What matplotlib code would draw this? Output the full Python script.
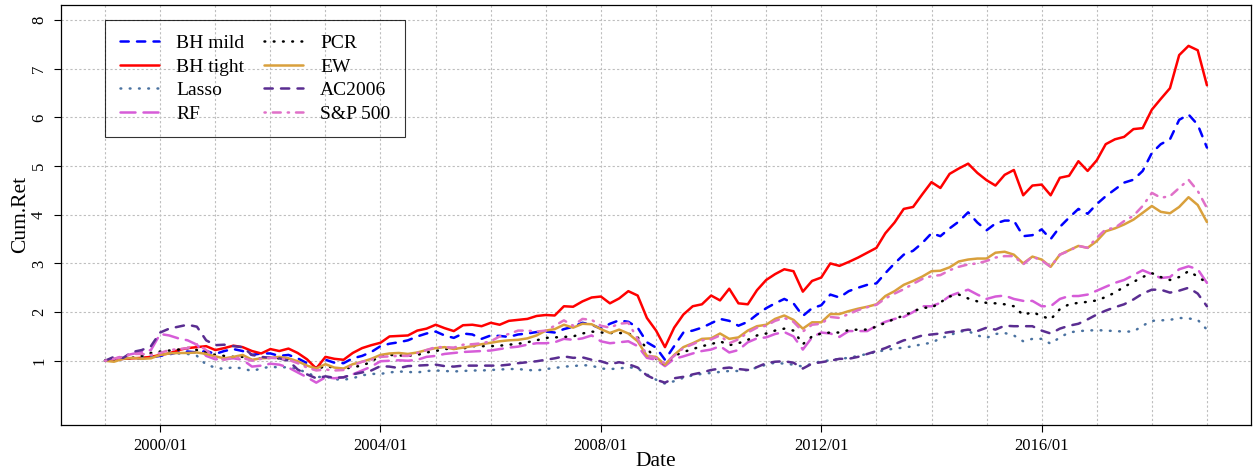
"""
Cumulative return of the BH portfolios against benchmark strategies, 1999/01 - 2019/01.
Values read off the original figure on a two-month grid.
"""

import matplotlib
matplotlib.use("Agg")
import matplotlib.pyplot as plt
import matplotlib.dates as mdates
import pandas as pd

DATES = pd.date_range("1999-01-01", "2019-01-01", freq="2MS")

BH_MILD = [
    1.00, 1.02, 1.04, 1.05, 1.05, 1.07,
    1.10, 1.13, 1.18, 1.19, 1.17, 1.20,
    1.14, 1.20, 1.24, 1.20, 1.12, 1.15,
    1.15, 1.10, 1.12, 1.05, 0.95, 0.85,
    1.02, 0.96, 0.95, 1.05, 1.10, 1.18,
    1.30, 1.35, 1.38, 1.42, 1.50, 1.56,
    1.60, 1.52, 1.47, 1.56, 1.54, 1.45,
    1.52, 1.51, 1.49, 1.54, 1.56, 1.59,
    1.60, 1.58, 1.65, 1.70, 1.78, 1.74,
    1.66, 1.76, 1.83, 1.80, 1.68, 1.38,
    1.27, 1.02, 1.30, 1.58, 1.62, 1.68,
    1.77, 1.86, 1.82, 1.72, 1.80, 1.95,
    2.08, 2.18, 2.27, 2.18, 1.92, 2.08,
    2.14, 2.36, 2.30, 2.43, 2.50, 2.56,
    2.59, 2.80, 3.00, 3.18, 3.26, 3.42,
    3.62, 3.56, 3.72, 3.86, 4.05, 3.84,
    3.68, 3.82, 3.88, 3.88, 3.56, 3.58,
    3.70, 3.50, 3.75, 3.94, 4.12, 4.02,
    4.22, 4.38, 4.52, 4.66, 4.72, 4.90,
    5.27, 5.45, 5.55, 5.95, 6.06, 5.85,
    5.38,
]

BH_TIGHT = [
    1.00, 1.02, 1.04, 1.05, 1.06, 1.08,
    1.12, 1.15, 1.22, 1.26, 1.28, 1.30,
    1.22, 1.26, 1.31, 1.28, 1.20, 1.15,
    1.24, 1.20, 1.25, 1.16, 1.03, 0.84,
    1.08, 1.04, 1.02, 1.16, 1.26, 1.32,
    1.37, 1.50, 1.51, 1.52, 1.62, 1.66,
    1.74, 1.67, 1.61, 1.73, 1.74, 1.71,
    1.78, 1.74, 1.82, 1.84, 1.86, 1.92,
    1.94, 1.93, 2.12, 2.11, 2.22, 2.30,
    2.32, 2.18, 2.28, 2.43, 2.34, 1.88,
    1.62, 1.28, 1.68, 1.95, 2.12, 2.16,
    2.34, 2.24, 2.48, 2.18, 2.16, 2.45,
    2.66, 2.78, 2.88, 2.84, 2.42, 2.64,
    2.71, 3.00, 2.95, 3.03, 3.12, 3.22,
    3.32, 3.62, 3.84, 4.12, 4.16, 4.42,
    4.67, 4.55, 4.84, 4.95, 5.05, 4.86,
    4.71, 4.60, 4.82, 4.92, 4.40, 4.60,
    4.62, 4.40, 4.76, 4.80, 5.10, 4.90,
    5.12, 5.45, 5.55, 5.60, 5.76, 5.78,
    6.16, 6.38, 6.60, 7.28, 7.47, 7.38,
    6.66,
]

LASSO = [
    1.00, 1.03, 1.05, 1.06, 1.08, 1.10,
    1.13, 1.15, 1.15, 1.14, 1.10, 0.92,
    0.86, 0.83, 0.87, 0.84, 0.79, 0.84,
    0.88, 0.86, 0.87, 0.82, 0.76, 0.66,
    0.68, 0.62, 0.61, 0.64, 0.70, 0.73,
    0.73, 0.76, 0.78, 0.77, 0.76, 0.79,
    0.80, 0.79, 0.78, 0.79, 0.80, 0.80,
    0.81, 0.82, 0.83, 0.83, 0.81, 0.80,
    0.83, 0.85, 0.88, 0.89, 0.91, 0.90,
    0.84, 0.83, 0.84, 0.87, 0.84, 0.72,
    0.61, 0.53, 0.58, 0.65, 0.70, 0.73,
    0.75, 0.77, 0.79, 0.79, 0.81, 0.86,
    0.92, 0.96, 0.94, 0.92, 0.88, 0.94,
    0.99, 1.01, 1.04, 1.06, 1.10, 1.14,
    1.18, 1.22, 1.25, 1.27, 1.30, 1.34,
    1.37, 1.46, 1.52, 1.60, 1.61, 1.52,
    1.47, 1.55, 1.57, 1.52, 1.40, 1.45,
    1.45, 1.35, 1.48, 1.58, 1.61, 1.62,
    1.63, 1.62, 1.61, 1.60, 1.60, 1.72,
    1.82, 1.83, 1.84, 1.88, 1.87, 1.84,
    1.64,
]

RF = [
    1.00, 1.04, 1.10, 1.14, 1.18, 1.22,
    1.55, 1.52, 1.46, 1.42, 1.33, 1.10,
    1.03, 1.04, 1.05, 1.02, 0.88, 0.90,
    0.94, 0.92, 0.86, 0.76, 0.66, 0.55,
    0.66, 0.64, 0.66, 0.72, 0.80, 0.88,
    0.99, 1.00, 1.01, 1.00, 1.02, 1.08,
    1.10, 1.14, 1.16, 1.18, 1.19, 1.20,
    1.21, 1.24, 1.27, 1.29, 1.33, 1.36,
    1.36, 1.38, 1.45, 1.43, 1.46, 1.52,
    1.40, 1.36, 1.38, 1.40, 1.30, 1.06,
    1.02, 0.89, 1.04, 1.09, 1.15, 1.20,
    1.23, 1.30, 1.17, 1.22, 1.38, 1.46,
    1.48, 1.55, 1.59, 1.50, 1.23, 1.48,
    1.58, 1.56, 1.49, 1.61, 1.61, 1.61,
    1.72, 1.80, 1.86, 1.90, 2.00, 2.12,
    2.12, 2.19, 2.33, 2.40, 2.46, 2.36,
    2.27, 2.32, 2.34, 2.27, 2.23, 2.23,
    2.12, 2.12, 2.27, 2.33, 2.33, 2.36,
    2.44, 2.52, 2.60, 2.66, 2.76, 2.86,
    2.78, 2.70, 2.72, 2.88, 2.94, 2.88,
    2.60,
]

PCR = [
    1.00, 1.02, 1.04, 1.06, 1.10, 1.16,
    1.19, 1.21, 1.23, 1.26, 1.22, 1.17,
    1.12, 1.10, 1.08, 1.08, 1.01, 1.05,
    1.06, 1.05, 1.04, 0.98, 0.90, 0.81,
    0.90, 0.85, 0.83, 0.87, 0.90, 0.98,
    1.11, 1.12, 1.11, 1.10, 1.12, 1.17,
    1.20, 1.24, 1.25, 1.25, 1.30, 1.30,
    1.30, 1.31, 1.33, 1.35, 1.38, 1.42,
    1.47, 1.48, 1.49, 1.50, 1.56, 1.60,
    1.58, 1.57, 1.57, 1.56, 1.48, 1.25,
    1.04, 0.92, 1.10, 1.18, 1.24, 1.30,
    1.34, 1.40, 1.32, 1.36, 1.43, 1.52,
    1.56, 1.62, 1.66, 1.62, 1.34, 1.50,
    1.56, 1.58, 1.58, 1.63, 1.64, 1.64,
    1.70, 1.78, 1.86, 1.93, 2.01, 2.09,
    2.09, 2.20, 2.32, 2.36, 2.28, 2.22,
    2.19, 2.18, 2.16, 2.12, 1.94, 2.00,
    1.92, 1.85, 2.06, 2.16, 2.19, 2.21,
    2.24, 2.31, 2.40, 2.52, 2.62, 2.72,
    2.80, 2.72, 2.66, 2.72, 2.84, 2.73,
    2.60,
]

EW = [
    1.00, 0.98, 1.04, 1.06, 1.04, 1.05,
    1.12, 1.15, 1.16, 1.16, 1.17, 1.14,
    1.09, 1.05, 1.08, 1.12, 1.02, 1.05,
    1.06, 1.08, 1.05, 0.99, 0.90, 0.84,
    0.93, 0.86, 0.84, 0.93, 0.98, 1.04,
    1.12, 1.15, 1.16, 1.14, 1.17, 1.22,
    1.26, 1.28, 1.24, 1.27, 1.30, 1.34,
    1.37, 1.40, 1.42, 1.43, 1.46, 1.52,
    1.62, 1.65, 1.74, 1.68, 1.76, 1.75,
    1.65, 1.57, 1.64, 1.56, 1.40, 1.10,
    1.08, 0.92, 1.12, 1.28, 1.36, 1.45,
    1.46, 1.56, 1.45, 1.48, 1.62, 1.71,
    1.74, 1.86, 1.93, 1.84, 1.66, 1.79,
    1.79, 1.96, 1.96, 2.02, 2.07, 2.11,
    2.16, 2.33, 2.43, 2.56, 2.64, 2.73,
    2.84, 2.85, 2.92, 3.04, 3.08, 3.10,
    3.10, 3.22, 3.24, 3.18, 3.00, 3.14,
    3.08, 2.93, 3.18, 3.27, 3.36, 3.32,
    3.46, 3.66, 3.72, 3.80, 3.90, 4.04,
    4.18, 4.06, 4.03, 4.16, 4.36, 4.20,
    3.85,
]

AC2006 = [
    1.00, 1.08, 1.06, 1.18, 1.22, 1.30,
    1.58, 1.66, 1.70, 1.74, 1.70, 1.42,
    1.32, 1.33, 1.30, 1.28, 1.12, 1.08,
    1.06, 1.05, 1.00, 0.82, 0.72, 0.64,
    0.68, 0.65, 0.66, 0.72, 0.76, 0.80,
    0.89, 0.88, 0.85, 0.89, 0.90, 0.91,
    0.92, 0.89, 0.88, 0.90, 0.90, 0.90,
    0.90, 0.90, 0.92, 0.95, 0.97, 0.99,
    1.02, 1.05, 1.09, 1.06, 1.07, 1.02,
    0.99, 0.93, 0.97, 0.93, 0.86, 0.70,
    0.61, 0.55, 0.64, 0.67, 0.72, 0.76,
    0.81, 0.84, 0.86, 0.83, 0.81, 0.87,
    0.95, 0.98, 0.99, 0.96, 0.84, 0.94,
    0.97, 1.00, 1.04, 1.04, 1.08, 1.14,
    1.20, 1.26, 1.34, 1.42, 1.46, 1.52,
    1.54, 1.56, 1.59, 1.61, 1.64, 1.61,
    1.68, 1.64, 1.72, 1.71, 1.71, 1.71,
    1.62, 1.56, 1.66, 1.72, 1.76, 1.85,
    1.95, 2.03, 2.10, 2.16, 2.26, 2.38,
    2.46, 2.46, 2.40, 2.44, 2.50, 2.38,
    2.12,
]

SP500 = [
    1.00, 1.04, 1.08, 1.14, 1.14, 1.12,
    1.16, 1.22, 1.24, 1.26, 1.34, 1.22,
    1.06, 1.02, 1.06, 1.06, 1.00, 1.04,
    1.06, 1.05, 1.02, 0.95, 0.86, 0.80,
    0.82, 0.80, 0.81, 0.90, 0.98, 1.02,
    1.08, 1.09, 1.10, 1.10, 1.16, 1.22,
    1.28, 1.28, 1.27, 1.33, 1.34, 1.36,
    1.40, 1.50, 1.55, 1.62, 1.62, 1.60,
    1.62, 1.72, 1.83, 1.72, 1.86, 1.84,
    1.72, 1.68, 1.76, 1.78, 1.45, 1.12,
    1.05, 0.95, 1.10, 1.26, 1.34, 1.42,
    1.44, 1.52, 1.36, 1.44, 1.58, 1.68,
    1.72, 1.82, 1.88, 1.80, 1.60, 1.74,
    1.76, 1.90, 1.88, 1.96, 2.04, 2.10,
    2.15, 2.28, 2.38, 2.47, 2.58, 2.68,
    2.74, 2.76, 2.86, 2.93, 2.98, 3.00,
    3.05, 3.12, 3.15, 3.15, 2.98, 3.14,
    3.06, 2.93, 3.18, 3.26, 3.36, 3.32,
    3.53, 3.70, 3.73, 3.87, 3.98, 4.18,
    4.45, 4.35, 4.38, 4.55, 4.72, 4.49,
    4.14,
]

LABELS = ["BH mild", "BH tight", "Lasso", "RF", "PCR", "EW", "AC2006", "S&P 500"]
VALUES = [BH_MILD, BH_TIGHT, LASSO, RF, PCR, EW, AC2006, SP500]

# R-like line types: lty 2 = dashed, 3 = dotted, 4 = dotdash, 5 = longdash
STYLES = [
    dict(color="#0000FF", ls=(0, (3.3, 3.3))),
    dict(color="#FF0000", ls="-"),
    dict(color="#4A72A0", ls=(0, (0.3, 3.4))),
    dict(color="#D65CD8", ls=(0, (6.0, 3.2))),
    dict(color="#000000", ls=(0, (0.3, 3.4))),
    dict(color="#D9A03C", ls="-"),
    dict(color="#5A2D91", ls=(0, (3.3, 3.3))),
    dict(color="#E070C8", ls=(0, (0.5, 2.8, 3.2, 2.8))),
]

YTICKS = [1, 2, 3, 4, 5, 6, 7, 8]
XTICK_YEARS = [2000, 2004, 2008, 2012, 2016]

OUT_FILE = "out.png"


def plot_cumret() -> None:
    plt.rcParams["font.family"] = ["Liberation Serif", "DejaVu Serif"]

    fig = plt.figure(figsize=(12.55, 4.75), dpi=100)
    ax = fig.add_axes([61 / 1255, 1 - 425 / 475, 1190 / 1255, 420.5 / 475])

    for label, vals, st in zip(LABELS, VALUES, STYLES):
        ax.plot(DATES, vals, color=st["color"], linestyle=st["ls"], lw=1.8,
                dash_capstyle="round", solid_capstyle="round", label=label)

    # R pads the data range by 4% on each side
    x0 = mdates.date2num(DATES[0])
    x1 = mdates.date2num(DATES[-1])
    pad = 0.04 * (x1 - x0)
    ax.set_xlim(x0 - pad, x1 + pad)
    ax.set_ylim(-0.32, 8.32)

    ax.set_xticks([mdates.date2num(pd.Timestamp(f"{y}-01-01")) for y in XTICK_YEARS])
    ax.set_xticklabels([f"{y}/01" for y in XTICK_YEARS])
    ax.xaxis.set_minor_locator(mdates.YearLocator(1))
    ax.set_yticks(YTICKS)
    ax.set_yticklabels([str(v) for v in YTICKS], rotation=90, va="center")

    ax.tick_params(axis="both", which="major", direction="out", length=5,
                   width=0.8, labelsize=12, pad=4)
    ax.tick_params(axis="y", which="major", pad=5)
    ax.tick_params(axis="x", which="minor", length=0)
    ax.grid(True, axis="x", which="both", color="#BEBEBE", lw=0.8, ls=(0, (2, 2)))
    ax.grid(True, axis="y", which="major", color="#BEBEBE", lw=0.8, ls=(0, (2, 2)))
    ax.set_axisbelow(True)
    for sp in ax.spines.values():
        sp.set_linewidth(0.9)

    ax.set_xlabel("Date", fontsize=15.5, va="center")
    ax.xaxis.set_label_coords(0.5, -36 / 420.5)
    ax.set_ylabel("Cum.Ret", fontsize=15.5, va="center")
    ax.yaxis.set_label_coords(-40 / 1190, 0.5)

    leg = ax.legend(
        ncol=2, loc="upper left",
        bbox_to_anchor=(x0, 8.0), bbox_transform=ax.transData,
        borderaxespad=0, fancybox=False, edgecolor="black", facecolor="none",
        fontsize=14, handlelength=2.0, handletextpad=0.9, columnspacing=1.0,
        labelspacing=0.3, borderpad=0.75,
    )
    leg.get_frame().set_linewidth(0.8)

    fig.savefig(OUT_FILE, dpi=100)


def main() -> None:
    plot_cumret()


if __name__ == "__main__":
    main()
